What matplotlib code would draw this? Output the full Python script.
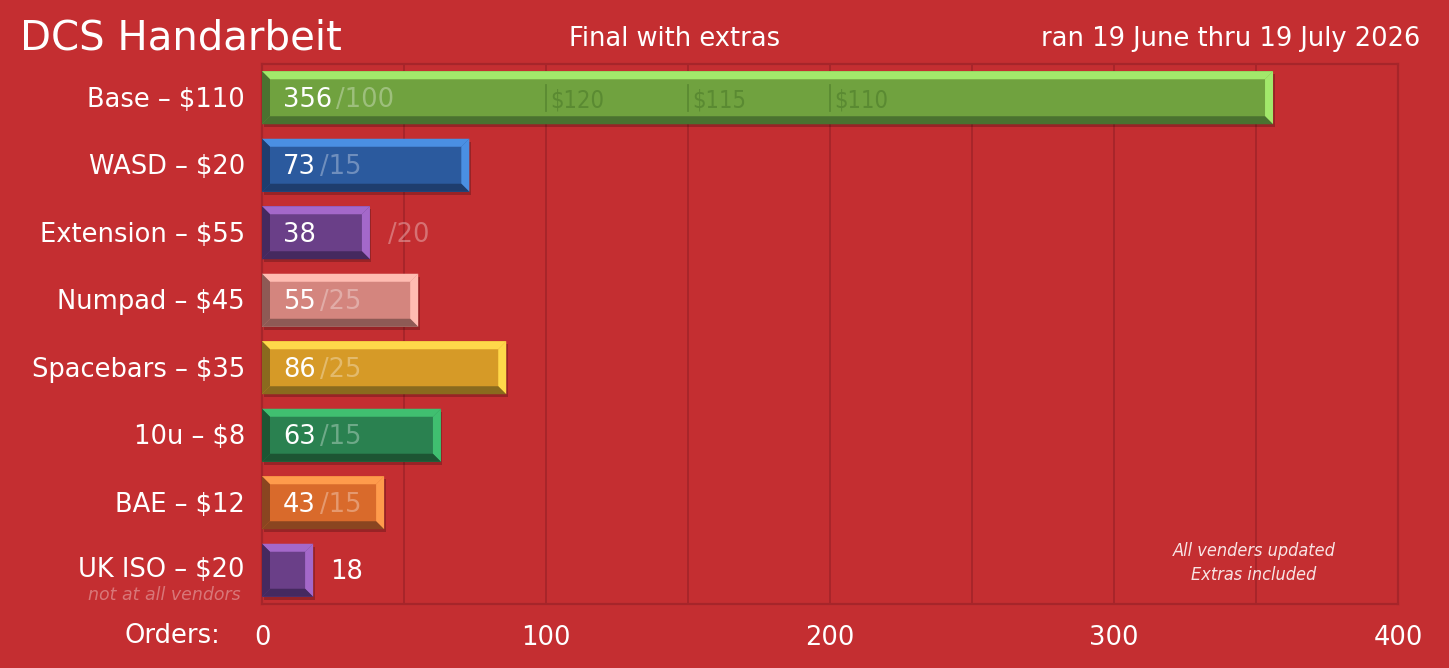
import matplotlib
matplotlib.use("Agg")
import matplotlib.pyplot as plt
from matplotlib.patches import Polygon, Rectangle

categories = ["Base – $110", "WASD – $20", "Extension – $55", "Numpad – $45",
              "Spacebars – $35", "10u – $8", "BAE – $12", "UK ISO – $20"]
orders = [356, 73, 38, 55, 86, 63, 43, 18]
targets = [100, 15, 20, 25, 25, 15, 15, None]
main_colors = ["#70A23F", "#2B5A9E", "#6A3F88", "#D4857E", "#D69A27", "#2A8150", "#D96A2B", "#6A3F88"]
light_colors = ["#A2E86B", "#4A8FE3", "#A468CA", "#FFBCB2", "#FFD84A", "#40BF70", "#FF9B4C", "#A468CA"]
dark_colors = ["#4A7230", "#1E3D6E", "#45295F", "#8E5A55", "#8A6A1E", "#1D5533", "#8A4520", "#45295F"]
tier_positions = [100, 150, 200]
tier_labels = ["$120", "$115", "$110"]
xticks = [0, 100, 200, 300, 400]

BG = "#C42E31"
GRID = "#A6252A"
FONT = ["DejaVu Sans"]
COND = ["DejaVu Sans"]
FS = 18.5

W, H = 1449, 668
fig = plt.figure(figsize=(W / 100, H / 100), dpi=100, facecolor=BG)
ax = fig.add_axes([262 / W, 64 / H, (1398 - 262) / W, (604 - 64) / H])
ax.set_facecolor(BG)
ax.set_xlim(0, 400)
n = len(categories)
ax.set_ylim(n - 0.5, -0.5)

for gx in range(50, 400, 50):
    ax.axvline(gx, color=GRID, lw=1.3, zorder=0)
for s in ax.spines.values():
    s.set_color(GRID)
    s.set_linewidth(1.6)

ax.set_yticks([])
ax.set_xticks(xticks)
ax.set_xticklabels([str(t) for t in xticks], family=FONT, fontsize=FS, color="white")
ax.tick_params(axis="x", length=0, pad=15)

px_x = 400 / (1398 - 262)
px_y = n / (604 - 64)
bh = 53 * px_y
bx = 8 * px_x
by = 8 * px_y

for i, (v, mc, lc, dc) in enumerate(zip(orders, main_colors, light_colors, dark_colors)):
    top = i - bh / 2
    bot = i + bh / 2
    x0, x1 = 0, v
    ax.add_patch(Rectangle((x0 + 1.5 * px_x, top + 3 * px_y), v, bh, color="black", alpha=0.22, lw=0, zorder=2))
    ax.add_patch(Rectangle((x0, top), v, bh, color=mc, lw=0, zorder=3))
    ax.add_patch(Polygon([(x0, top), (x1, top), (x1 - bx, top + by), (x0 + bx, top + by)], closed=True, color=lc, lw=0, zorder=4))
    ax.add_patch(Polygon([(x1, top), (x1, bot), (x1 - bx, bot - by), (x1 - bx, top + by)], closed=True, color=lc, lw=0, zorder=4))
    ax.add_patch(Polygon([(x0, bot), (x1, bot), (x1 - bx, bot - by), (x0 + bx, bot - by)], closed=True, color=dc, lw=0, zorder=4))
    ax.add_patch(Polygon([(x0, top), (x0, bot), (x0 + bx, bot - by), (x0 + bx, top + by)], closed=True, color=dc, lw=0, zorder=4))

    if v >= 30:
        t = ax.annotate(str(v), xy=(0, i), xytext=(21, -2), textcoords="offset pixels",
                        va="center", ha="left", color="white", fontsize=FS, family=FONT, zorder=6)
        if targets[i] is not None:
            if v >= 40:
                ax.annotate("/" + str(targets[i]), xy=(1, 0.5), xycoords=t, xytext=(4, 0),
                            textcoords="offset pixels", va="center", ha="left", color="white",
                            alpha=0.32, fontsize=FS, family=FONT, zorder=6)
            else:
                ax.annotate("/" + str(targets[i]), xy=(v, i), xytext=(18, -2),
                            textcoords="offset pixels", va="center", ha="left", color="white",
                            alpha=0.32, fontsize=FS, family=FONT, zorder=6)
    else:
        ax.annotate(str(v), xy=(v, i), xytext=(17, -2), textcoords="offset pixels",
                    va="center", ha="left", color="white", fontsize=FS, family=FONT, zorder=6)

tier_col = "#5A8A32"
for tp, tl in zip(tier_positions, tier_labels):
    ax.plot([tp, tp], [0 - 13 * px_y, 0 + 13 * px_y], color=tier_col, lw=1.3, zorder=5)
    ax.annotate(tl, xy=(tp, 0), xytext=(4, -3), textcoords="offset pixels", va="center", ha="left",
                color=tier_col, fontsize=17, family=COND, fontstretch="condensed", zorder=6)

for i, c in enumerate(categories):
    dy = 0 if i == n - 1 else -2
    ax.annotate(c, xy=(0, i), xytext=(-17, dy), textcoords="offset pixels", ha="right", va="center",
                color="white", fontsize=FS, family=FONT, annotation_clip=False)
ax.annotate("not at all vendors", xy=(0, n - 1), xytext=(-21, -25), textcoords="offset pixels",
            ha="right", va="center", color="white", alpha=0.35, fontsize=12.5, style="italic",
            family=FONT, annotation_clip=False)

fig.text(220 / W, 1 - 636 / H, "Orders:", ha="right", va="center", color="white", fontsize=FS, family=FONT)

fig.text(20 / W, 1 - 50 / H, "DCS Handarbeit", ha="left", va="baseline", color="white", fontsize=29,
         family=FONT)
fig.text(675 / W, 1 - 46 / H, "Final with extras", ha="center", va="baseline", color="white", fontsize=FS, family=FONT)
fig.text(1420 / W, 1 - 46 / H, "ran 19 June thru 19 July 2026", ha="right", va="baseline", color="white",
         fontsize=FS, family=FONT)

ax.text((1254 - 262) * px_x, n - 1 - 7 * px_y, "All venders updated\nExtras included",
        ha="center", va="center", color="#F8E4E4", fontsize=13, style="italic", family=COND,
        fontstretch="condensed", linespacing=1.4, zorder=6)

fig.savefig("out.png", dpi=100, facecolor=BG)
